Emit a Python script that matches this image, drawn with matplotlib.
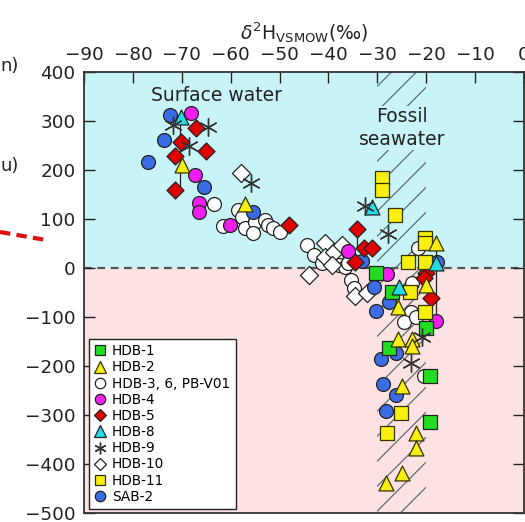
import numpy as np
import matplotlib
matplotlib.use("Agg")
import matplotlib.pyplot as plt
from matplotlib.patches import Rectangle
from matplotlib.lines import Line2D

plt.rcParams['font.family'] = ['DejaVu Sans']

# ---------------- data (δ2H ‰, depth-like y value) ----------------
hdb1_x = [-30.2, -27.1, -20.0, -27.6, -19.2, -19.2]
hdb1_y = [-10, -49, -122, -163, -220, -314]

hdb2_x = [-70.0, -57.1, -18.0, -20.0, -25.7, -25.7, -22.9, -22.9, -24.9, -22.0, -22.0, -24.9, -28.2]
hdb2_y = [210, 130, 52, -35, -80, -145, -145, -160, -241, -337, -368, -418, -439]

hdb3_x = [-63.5, -61.6, -58.6, -57.6, -57.1, -55.1, -55.5, -53.0, -52.4, -51.4, -50.0,
          -44.3, -42.9, -41.4, -38.5, -37.8, -36.7, -36.0, -35.3, -34.7,
          -21.6, -22.9, -23.1, -24.5, -22.0, -20.4]
hdb3_y = [131, 86, 118, 104, 82, 94, 71, 98, 88, 82, 73,
          47, 27, 10, 20, 6, 2, 10, -24, -41,
          41, -31, -90, -110, -100, -220]

hdb4_x = [-68.2, -67.3, -66.5, -66.5, -60.2, -36.1, -28.0, -18.0]
hdb4_y = [316, 190, 133, 114, 88, 35, -12, -108]

hdb5_x = [-67.1, -70.2, -65.1, -71.4, -71.4, -48.0, -34.1, -32.7, -31.0, -34.5, -20.0, -20.5, -19.0]
hdb5_y = [286, 257, 239, 229, 159, 88, 80, 40, 40, 12, -10, -20, -61]

hdb8_x = [-70.2, -31.0, -18.0, -25.5]
hdb8_y = [308, 124, 10, -39]

hdb9_x = [-71.8, -64.7, -68.5, -55.9, -32.5, -27.8, -23.1, -20.8]
hdb9_y = [292, 287, 250, 173, 127, 69, -194, -140]

hdb10_x = [-57.8, -40.8, -40.8, -38.8, -37.3, -43.9, -39.2, -34.6, -32.2]
hdb10_y = [194, 51, 22, 33, 47, -14, 6, -57, -52]

hdb11_x = [-29.0, -29.0, -26.3, -20.3, -20.3, -23.7, -20.3, -23.4, -20.3, -25.1, -28.0]
hdb11_y = [184, 159, 108, 62, 51, 12, 12, -49, -90, -296, -337]

sab2_x = [-72.4, -73.7, -76.9, -65.5, -55.5, -33.1, -30.6, -27.6, -30.2, -29.2, -26.1, -28.8, -26.1, -28.2, -17.8]
sab2_y = [312, 261, 216, 165, 114, 14, -39, -69, -88, -186, -173, -237, -259, -292, 12]

# vertical connector lines (x, y_top, y_bottom)
conn_x = [-70.3, -34.1, -17.9]
conn_top = [308, 80, 52]
conn_bot = [160, 40, -122]

labels = ['HDB-1', 'HDB-2', 'HDB-3, 6, PB-V01', 'HDB-4', 'HDB-5', 'HDB-8',
          'HDB-9', 'HDB-10', 'HDB-11', 'SAB-2']

xticks = [-90, -80, -70, -60, -50, -40, -30, -20, -10, 0]
yticks = [-500, -400, -300, -200, -100, 0, 100, 200, 300, 400]

# ---------------- figure ----------------
W, H = 525, 522
fig = plt.figure(figsize=(W / 100, H / 100), dpi=100)
ax = fig.add_axes([84 / W, (H - 513) / H, 440 / W, 441 / H])

cyan = '#C8F4F8'
pink = '#FCE2E2'
ax.axhspan(0, 400, color=cyan, zorder=0, lw=0)
ax.axhspan(-500, 0, color=pink, zorder=0, lw=0)

# hatched band (fossil seawater)
band = Rectangle((-30, -500), 10, 900, facecolor='none', edgecolor='none')
ax.add_patch(band)
xs = np.array([-30.0, -20.0])
for c in np.arange(-700, 450, 51):
    ln, = ax.plot(xs, c + 10 * (xs + 30), color='#5f7070', lw=0.9, zorder=1)
    ln.set_clip_path(band)

ax.axhline(0, color='#555555', lw=1.6, ls=(0, (3.5, 2.5)), zorder=1.5)

for cx, ct, cb in zip(conn_x, conn_top, conn_bot):
    ax.plot([cx, cx], [ct, cb], color='#222222', lw=0.9, zorder=2)

ec = '#222222'
ms = 100
ax.scatter(hdb3_x, hdb3_y, s=ms, marker='o', c='white', edgecolors=ec, linewidths=0.9, zorder=3)
ax.scatter(hdb10_x, hdb10_y, s=ms * 0.85, marker='D', c='white', edgecolors=ec, linewidths=0.9, zorder=3)
ax.scatter(hdb4_x, hdb4_y, s=ms, marker='o', c='#F01EF0', edgecolors=ec, linewidths=0.9, zorder=4)
ax.scatter(sab2_x, sab2_y, s=ms, marker='o', c='#3A6CE6', edgecolors=ec, linewidths=0.9, zorder=4)
ax.scatter(hdb5_x, hdb5_y, s=ms * 0.75, marker='D', c='#E00000', edgecolors=ec, linewidths=0.9, zorder=5)
ax.scatter(hdb1_x, hdb1_y, s=ms * 1.1, marker='s', c='#22DD22', edgecolors=ec, linewidths=0.9, zorder=5)
ax.scatter(hdb11_x, hdb11_y, s=ms * 1.1, marker='s', c='#F8EE10', edgecolors='#333300', linewidths=0.9, zorder=5)
ax.scatter(hdb2_x, hdb2_y, s=ms * 1.15, marker='^', c='#F8EE10', edgecolors='#333300', linewidths=0.9, zorder=6)
ax.scatter(hdb8_x, hdb8_y, s=ms * 1.15, marker='^', c='#22DDE6', edgecolors=ec, linewidths=0.9, zorder=6)
ax.scatter(hdb9_x, hdb9_y, s=ms * 1.6, marker=(6, 2, 0), c='#333333', linewidths=1.0, zorder=6)

# legend proxies
lm = 7.5
handles = [
    Line2D([], [], ls='none', marker='s', ms=lm, mfc='#22DD22', mec=ec, mew=0.9),
    Line2D([], [], ls='none', marker='^', ms=lm + 1, mfc='#F8EE10', mec='#333300', mew=0.9),
    Line2D([], [], ls='none', marker='o', ms=lm, mfc='white', mec=ec, mew=0.9),
    Line2D([], [], ls='none', marker='o', ms=lm, mfc='#F01EF0', mec=ec, mew=0.9),
    Line2D([], [], ls='none', marker='D', ms=lm - 1, mfc='#E00000', mec=ec, mew=0.9),
    Line2D([], [], ls='none', marker='^', ms=lm + 1, mfc='#22DDE6', mec=ec, mew=0.9),
    Line2D([], [], ls='none', marker=(6, 2, 0), ms=lm + 1, color='#333333', mew=1.0),
    Line2D([], [], ls='none', marker='D', ms=lm - 1, mfc='white', mec=ec, mew=0.9),
    Line2D([], [], ls='none', marker='s', ms=lm, mfc='#F8EE10', mec='#333300', mew=0.9),
    Line2D([], [], ls='none', marker='o', ms=lm, mfc='#3A6CE6', mec=ec, mew=0.9),
]
leg = ax.legend(handles, labels, loc='upper left', bbox_to_anchor=(0.011, 0.395),
                borderaxespad=0, fontsize=9.8, frameon=True, fancybox=False,
                edgecolor='#222222', framealpha=1, handlelength=0.8,
                handletextpad=0.5, labelspacing=0.16, borderpad=0.4)
leg.get_frame().set_linewidth(1.0)
leg.set_zorder(10)

# texts
ax.text(-62.8, 352, 'Surface water', ha='center', va='center', fontsize=13.5,
        color='#222222', zorder=7)
ax.text(-25.0, 286, 'Fossil\nseawater', ha='center', va='center', fontsize=13.5,
        color='#222222', linespacing=1.25, zorder=7,
        bbox=dict(facecolor=cyan, edgecolor='none', pad=1))

# axes
ax.set_xlim(-90, 0)
ax.set_ylim(-500, 400)
ax.set_xticks(xticks)
ax.set_yticks(yticks)
ax.xaxis.tick_top()
ax.xaxis.set_label_position('top')
ax.tick_params(axis='both', direction='in', length=8, width=1.0, labelsize=13.2,
               colors='#222222', pad=6)
ax.tick_params(axis='y', right=True)
for sp in ax.spines.values():
    sp.set_linewidth(1.3)
    sp.set_color('#333333')
ax.set_xlabel(r'$\delta^{2}$H$_{\mathrm{VSMOW}}$(‰)', fontsize=13.5, labelpad=4,
              color='#222222')

# cropped fragments at the left margin
fig.text(0.0, 1 - 66 / H, 'n)', fontsize=13, color='#222222', va='center', ha='left')
fig.text(0.0, 1 - 166 / H, 'u)', fontsize=13, color='#222222', va='center', ha='left')
fig.add_artist(Line2D([0 / W, 46 / W], [1 - 232 / H, 1 - 240 / H], color='#E01010',
                      lw=3, ls=(0, (2.5, 1.5))))

fig.savefig('out.png', dpi=100)
